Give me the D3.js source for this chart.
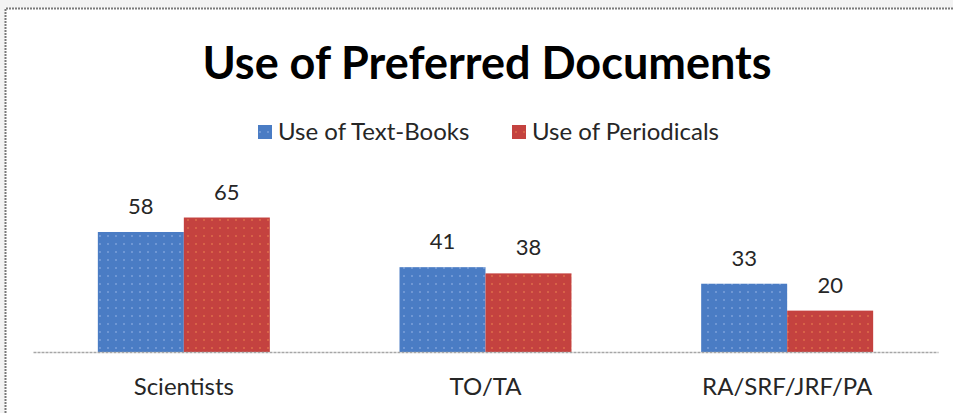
<!DOCTYPE html>
<html>
<head>
<meta charset="utf-8">
<script src="https://cdn.jsdelivr.net/npm/d3@7"></script>
<style>
html,body{margin:0;padding:0;background:#f3f3f3;}
svg{display:block;}
</style>
</head>
<body>
<script>
const title = "Use of Preferred Documents";
const categories = ["Scientists", "TO/TA", "RA/SRF/JRF/PA"];
const seriesNames = ["Use of Text-Books", "Use of Periodicals"];
const textBooks = [58, 41, 33];
const periodicals = [65, 38, 20];
const seriesColors = ["#4a7cc4", "#c4423f"];
const dotColors = ["#7fa3dc", "#e0704a"];

const W = 953, H = 413;
const svg = d3.select("body").append("svg").attr("width", W).attr("height", H);
const font = "Lato, 'Open Sans', sans-serif";

// patterns
const defs = svg.append("defs");
seriesColors.forEach((c, i) => {
  const p = defs.append("pattern").attr("id", "pat" + i)
    .attr("patternUnits", "userSpaceOnUse").attr("width", 8).attr("height", 8);
  p.append("rect").attr("width", 8).attr("height", 8).attr("fill", c);
  p.append("rect").attr("x", 3).attr("y", 3).attr("width", 2).attr("height", 2).attr("fill", dotColors[i]).attr("opacity", 0.7);
});

// chart area (white) with border
svg.append("rect").attr("x", 5).attr("y", 8).attr("width", W).attr("height", H)
  .attr("fill", "#fff");
svg.append("path").attr("d", `M5.5,${H} V8.5 H${W}`)
  .attr("fill", "none").attr("stroke", "#7a7a7a").attr("stroke-width", 2)
  .attr("stroke-dasharray", "2,1");

// title
svg.append("text").attr("x", 487).attr("y", 79).attr("text-anchor", "middle")
  .attr("font-family", font).attr("font-weight", "bold").attr("font-size", 45)
  .attr("fill", "#000").text(title);

// scales
const baseY = 352;
const x0 = d3.scaleBand().domain(categories).range([33, 938]).padding(0);
const x1 = d3.scaleBand().domain(seriesNames).range([0, x0.bandwidth()]).paddingInner(0).paddingOuter(0.754);
const y = d3.scaleLinear().domain([0, 70]).range([baseY, baseY - 70 * 2.069]);

const data = categories.map((c, i) => ({cat: c, values: [textBooks[i], periodicals[i]]}));

// legend
const legendItems = [{x: 258, name: seriesNames[0]}, {x: 512, name: seriesNames[1]}];
legendItems.forEach((d, i) => {
  svg.append("rect").attr("x", d.x).attr("y", 125).attr("width", 14).attr("height", 14)
    .attr("fill", `url(#pat${i})`);
  svg.append("text").attr("x", d.x + 20).attr("y", 140)
    .attr("font-family", font).attr("font-size", 24).attr("fill", "#262626").text(d.name);
});

// bars
const g = svg.append("g");
data.forEach(d => {
  d.values.forEach((v, i) => {
    const bx = x0(d.cat) + x1(seriesNames[i]);
    g.append("rect").attr("x", bx).attr("y", y(v))
      .attr("width", x1.bandwidth()).attr("height", y(0) - y(v))
      .attr("fill", `url(#pat${i})`);
    g.append("text").attr("x", bx + x1.bandwidth() / 2).attr("y", y(v) - 18)
      .attr("text-anchor", "middle").attr("font-family", font).attr("font-size", 22)
      .attr("fill", "#262626").text(v);
  });
});

// axis
const axis = d3.axisBottom(x0).tickSize(0).tickPadding(26);
const ag = svg.append("g").attr("transform", `translate(0,${baseY})`).call(axis);
ag.select(".domain").attr("stroke", "#a6a6a6").attr("stroke-width", 1.5).attr("stroke-dasharray", "3,1");
ag.selectAll(".tick text").attr("font-family", font).attr("font-size", 24).attr("fill", "#262626")
  .attr("dy", "0.71em");
</script>
</body>
</html>
